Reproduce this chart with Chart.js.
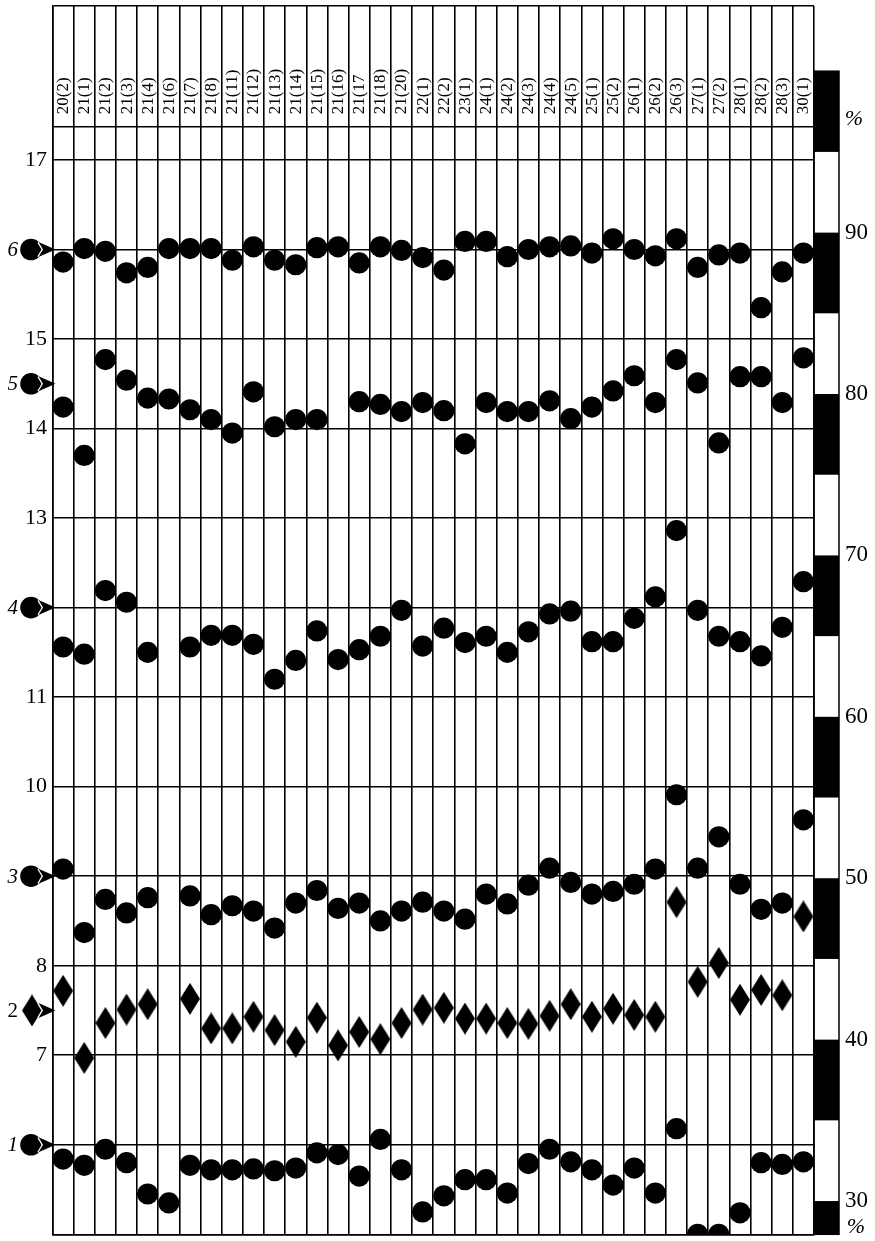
<!DOCTYPE html>
<html><head><meta charset="utf-8">
<script src="https://cdn.jsdelivr.net/npm/chart.js@4/dist/chart.umd.min.js"></script>
<style>html,body{margin:0;padding:0;background:#fff;}#wrap{width:875px;height:1241px;}</style>
</head><body><div id="wrap"><canvas id="c" width="875" height="1241"></canvas></div>
<script>
// ---- data ----
const categories = ['20(2)','21(1)','21(2)','21(3)','21(4)','21(6)','21(7)','21(8)','21(11)','21(12)','21(13)','21(14)','21(15)','21(16)','21(17','21(18)','21(20)','22(1)','22(2)','23(1)','24(1)','24(2)','24(3)','24(4)','24(5)','25(1)','25(2)','26(1)','26(2)','26(3)','27(1)','27(2)','28(1)','28(2)','28(3)','30(1)'];
const series6 = [15.86,16.01,15.98,15.74,15.80,16.01,16.01,16.01,15.88,16.03,15.88,15.83,16.02,16.03,15.85,16.03,15.99,15.91,15.77,16.09,16.09,15.92,16.00,16.03,16.04,15.96,16.12,16.00,15.93,16.12,15.80,15.94,15.96,15.35,15.75,15.96];
const series5 = [14.24,13.70,14.77,14.54,14.34,14.33,14.21,14.10,13.95,14.41,14.02,14.10,14.10,null,14.30,14.27,14.19,14.29,14.20,13.83,14.29,14.19,14.19,14.31,14.11,14.24,14.42,14.59,14.29,14.77,14.51,13.84,14.58,14.58,14.29,14.79];
const series4 = [11.56,11.48,12.19,12.06,11.50,null,11.56,11.69,11.69,11.59,11.20,11.41,11.74,11.42,11.53,11.68,11.97,11.57,11.77,11.61,11.68,11.50,11.73,11.93,11.96,11.62,11.62,11.88,12.12,12.86,11.97,11.68,11.62,11.46,11.78,12.29];
const series3 = [9.08,8.37,8.74,8.59,8.76,null,8.78,8.57,8.67,8.61,8.42,8.70,8.84,8.64,8.70,8.50,8.61,8.71,8.61,8.52,8.80,8.69,8.90,9.09,8.93,8.80,8.83,8.91,9.08,9.91,9.09,9.44,8.91,8.63,8.70,9.63];
const series2 = [7.72,6.97,7.36,7.51,7.57,null,7.63,7.30,7.30,7.43,7.28,7.15,7.42,7.11,7.26,7.18,7.36,7.51,7.53,7.41,7.41,7.36,7.35,7.44,7.57,7.43,7.52,7.45,7.43,8.71,7.82,8.03,7.62,7.73,7.67,8.55];
const series1 = [5.84,5.77,5.95,5.80,5.45,5.35,5.77,5.72,5.72,5.73,5.71,5.74,5.91,5.89,5.65,6.06,5.72,5.25,5.43,5.61,5.61,5.46,5.79,5.95,5.81,5.72,5.55,5.74,5.46,6.18,5.00,5.00,5.24,5.80,5.78,5.81];
const seriesNames = ['6','5','4','3','2','1'];
const seriesBaselines = [16, 14.5, 12, 9, 7.5, 6];
const seriesItalic = [true, true, true, true, false, true];
const seriesShapes = ['circle','circle','circle','circle','diamond','circle'];
const leftTickValues = [5,6,7,8,9,10,11,12,13,14,15,16,17];
const leftTickLabels = ['7','8','10','11','13','14','15','17'];
const headerLineValue = 17.372;
const yMin = 5, yMax = 18.72;
const pctTicks = [30,40,50,60,70,80,90];
const pctMin = 27.94, pctMax = 104.04, pctBarTop = 100;

// ---- marker image ----
function makeDiamond(w,h){
  const c=document.createElement('canvas'); c.width=w; c.height=h;
  const g=c.getContext('2d'); g.fillStyle='#000';
  g.beginPath(); g.moveTo(w/2,0); g.lineTo(w,h/2); g.lineTo(w/2,h); g.lineTo(0,h/2); g.closePath(); g.fill();
  return c;
}
const diamondImg = makeDiamond(20,32);

const FONT = '"Liberation Serif","Times New Roman",serif';

const decor = {
  id:'decor',
  afterDraw(chart){
    const {ctx, chartArea:a, scales:{x,y,yp}} = chart;
    ctx.save();
    ctx.fillStyle='#000'; ctx.strokeStyle='#000';
    // header labels (rotated)
    ctx.font='17px '+FONT;
    ctx.textAlign='left'; ctx.textBaseline='middle';
    const hy = y.getPixelForValue(headerLineValue);
    categories.forEach((c,i)=>{
      const px = x.getPixelForValue(i);
      ctx.save(); ctx.translate(px+0.5, hy-12.5); ctx.rotate(-Math.PI/2); ctx.fillText(c,0,0); ctx.restore();
    });
    // percent stripe bar
    const bx = a.right, bw = 25;
    const top = yp.getPixelForValue(pctBarTop), bot = a.bottom;
    for(let k=25;k<100;k+=5){
      if(k%10===5){
        const y1=Math.max(yp.getPixelForValue(k+5), top);
        const y2=Math.min(yp.getPixelForValue(k), bot);
        ctx.fillRect(bx,y1,bw,y2-y1);
      }
    }
    ctx.lineWidth=1.5;
    ctx.strokeRect(bx, top, bw, bot-top);
    // % signs
    ctx.font='italic 22px '+FONT; ctx.textAlign='center'; ctx.textBaseline='middle';
    ctx.fillText('%', 854, 119);
    ctx.fillText('%', 856, 1227);
    // series markers on the left
    seriesNames.forEach((n,i)=>{
      const py = y.getPixelForValue(seriesBaselines[i]);
      ctx.fillStyle='#000';
      ctx.font=(seriesItalic[i]?'italic ':'')+'21px '+FONT;
      ctx.textAlign='right'; ctx.textBaseline='middle';
      ctx.fillText(n, 18, py+1);
      if(seriesShapes[i]==='diamond'){
        ctx.drawImage(diamondImg, 32-10, py-16, 20, 32);
      } else {
        ctx.beginPath(); ctx.arc(31, py, 10.8, 0, Math.PI*2); ctx.fill();
      }
      ctx.beginPath();
      ctx.moveTo(38.5, py-7.5); ctx.lineTo(43, py); ctx.lineTo(38.5, py+7.5);
      ctx.strokeStyle='#fff'; ctx.lineWidth=2.5; ctx.stroke();
      ctx.beginPath();
      ctx.moveTo(38.5, py-7.5); ctx.lineTo(55.5, py); ctx.lineTo(38.5, py+7.5); ctx.lineTo(43, py); ctx.closePath();
      ctx.fillStyle='#000'; ctx.fill();
    });
    ctx.restore();
  }
};

function ds(data, shape){
  return {
    data, showLine:false,
    pointStyle: shape==='diamond' ? diamondImg : 'circle',
    pointRadius: 10.6, pointBorderWidth: 0,
    pointBackgroundColor:'#000', borderColor:'#000', backgroundColor:'#000'
  };
}

new Chart(document.getElementById('c'), {
  type:'line',
  data:{
    labels: categories,
    datasets:[ds(series6),ds(series5),ds(series4),ds(series3),ds(series2,'diamond'),ds(series1)]
  },
  options:{
    responsive:false, animation:false, events:[],
    layout:{autoPadding:false, padding:{top:6,bottom:6.7,left:0,right:0}},
    plugins:{legend:{display:false}, tooltip:{enabled:false}},
    scales:{
      x:{
        type:'category', offset:true,
        grid:{offset:true, color:'#000', lineWidth:1.6, drawTicks:false},
        border:{display:true, color:'#000', width:1.6},
        ticks:{display:false},
        afterFit(s){ s.height = 0; s.paddingLeft = 0; s.paddingRight = 0; }
      },
      y:{
        type:'linear', position:'left', min:yMin, max:yMax,
        afterBuildTicks(s){
          s.ticks = leftTickValues.concat([headerLineValue, yMax]).map(v=>({value:v}));
        },
        grid:{color:'#000', lineWidth:1.6, drawTicks:false},
        border:{display:true, color:'#000', width:1.6},
        ticks:{
          color:'#000', padding:5.5, font:{family:FONT, size:22},
          callback(v){ return leftTickLabels.includes(String(v)) ? String(v) : ''; }
        },
        afterFit(s){ s.width = 52.5; s.paddingTop = 0; s.paddingBottom = 0; }
      },
      yp:{
        type:'linear', position:'right', min:pctMin, max:pctMax,
        afterBuildTicks(s){ s.ticks = pctTicks.map(v=>({value:v})); },
        grid:{display:false, drawOnChartArea:false, drawTicks:false},
        border:{display:false},
        ticks:{color:'#000', padding:31, font:{family:FONT, size:23}, callback(v){ return String(v); }},
        afterFit(s){ s.width = 61; s.paddingTop = 0; s.paddingBottom = 0; }
      }
    }
  },
  plugins:[decor]
});
</script>
</body></html>
